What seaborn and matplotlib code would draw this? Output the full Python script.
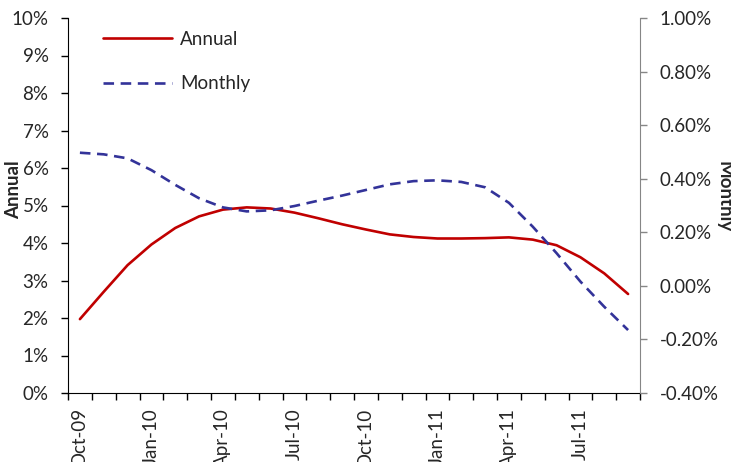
import matplotlib
matplotlib.use("Agg")
import matplotlib.pyplot as plt
import seaborn as sns
import numpy as np
from matplotlib.ticker import FuncFormatter, FixedLocator

months = ["Oct-09", "Nov-09", "Dec-09", "Jan-10", "Feb-10", "Mar-10", "Apr-10", "May-10",
          "Jun-10", "Jul-10", "Aug-10", "Sep-10", "Oct-10", "Nov-10", "Dec-10", "Jan-11",
          "Feb-11", "Mar-11", "Apr-11", "May-11", "Jun-11", "Jul-11", "Aug-11", "Sep-11"]
annual = [1.97, 2.70, 3.41, 3.96, 4.40, 4.71, 4.89, 4.95, 4.92, 4.81, 4.66, 4.50,
          4.36, 4.23, 4.16, 4.12, 4.12, 4.13, 4.15, 4.09, 3.94, 3.62, 3.19, 2.64]
monthly = [0.497, 0.491, 0.476, 0.432, 0.377, 0.327, 0.293, 0.278, 0.282, 0.298, 0.318, 0.337,
           0.358, 0.379, 0.391, 0.394, 0.388, 0.368, 0.310, 0.221, 0.122, 0.016, -0.078, -0.165]

sns.set_style("white")
plt.rcParams['font.family'] = ['Lato', 'DejaVu Sans']
FS = 13.5

fig = plt.figure(figsize=(7.31, 4.62), dpi=100)
ax = fig.add_axes([68/731, 1-393/462, 572/731, 375/462])
x = np.arange(len(months))
sns.lineplot(x=x, y=annual, ax=ax, color="#C00000", linewidth=1.9, label="Annual")
ax2 = ax.twinx()
sns.lineplot(x=x, y=monthly, ax=ax2, color="#333399", linewidth=1.9, label="Monthly")
ax2.lines[0].set_dashes((4, 2.5))

ax.set_xlim(-0.5, len(months) - 0.5)
ax.set_ylim(0, 10)
ax.set_yticks(np.arange(0, 11, 1))
ax.yaxis.set_major_formatter(FuncFormatter(lambda v, p: f"{v:.0f}%"))
ax2.set_ylim(-0.4, 1.0)
ax2.set_yticks(np.arange(-0.4, 1.01, 0.2))
ax2.yaxis.set_major_formatter(FuncFormatter(lambda v, p: f"{v:.2f}%"))

ax.set_xticks(x[::3])
ax.set_xticklabels(months[::3], rotation=90, fontsize=FS)
ax.xaxis.set_minor_locator(FixedLocator(np.arange(-0.5, len(months), 1)))
ax.tick_params(axis='x', which='major', length=0, pad=11)
ax.tick_params(axis='x', which='minor', length=5, width=1, color='black', direction='out', bottom=True)
ax.tick_params(axis='y', which='major', length=5, width=1, color='black', direction='out', left=True, labelsize=FS, pad=9)
ax2.tick_params(axis='y', which='major', length=5, width=1, color='#868686', direction='out', right=True, labelsize=FS, pad=9)

for a in (ax, ax2):
    a.spines['top'].set_visible(False)
    a.set_xlabel("")
    a.set_ylabel("")
ax.spines['left'].set_color('black')
ax.spines['bottom'].set_color('black')
ax.spines['right'].set_visible(False)
ax2.spines['left'].set_visible(False)
ax2.spines['bottom'].set_visible(False)
ax2.spines['right'].set_color('#868686')

h1, l1 = ax.get_legend_handles_labels()
h2, l2 = ax2.get_legend_handles_labels()
if ax2.get_legend() is not None:
    ax2.get_legend().remove()
ax.legend(h1 + h2, l1 + l2, loc='upper left', bbox_to_anchor=(35/572, 1 - 13/375),
          frameon=False, fontsize=FS, handlelength=3.7, handletextpad=0.4,
          labelspacing=1.45, borderpad=0, borderaxespad=0)

fig.text(14/731, 1 - 190/462, "Annual", rotation=90, fontsize=FS, fontweight='bold',
         ha='center', va='center')
fig.text(724/731, 1 - 197/462, "Monthly", rotation=270, fontsize=FS, fontweight='bold',
         ha='center', va='center')

fig.savefig("out.png", dpi=100)
